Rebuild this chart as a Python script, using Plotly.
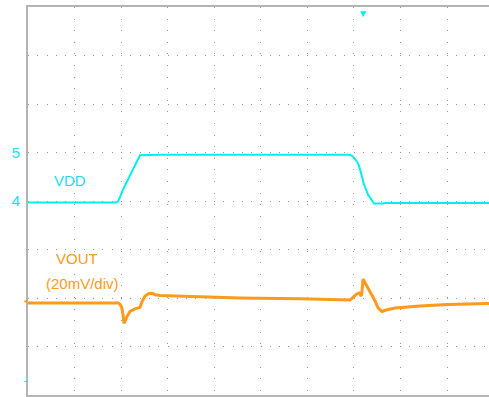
import plotly.graph_objects as go

# Time axis in scope divisions (10 div full screen, right edge cropped)
vdd_t = [0, 1.890, 1.933, 1.976, 1.997, 2.040, 2.105, 2.191, 2.298, 2.405, 2.835,
         4.77, 6.916, 6.980, 7.066, 7.109, 7.152, 7.216, 7.302, 7.388, 7.431, 7.625,
         7.668, 9.901]
vdd_v = [3.967, 3.967, 3.988, 4.07, 4.13, 4.235, 4.358, 4.543, 4.749, 4.944, 4.955,
         4.955, 4.955, 4.914, 4.811, 4.728, 4.543, 4.337, 4.132, 3.988, 3.947, 3.947,
         3.957, 3.957]

vout_t = [0, 0.902, 1.890, 1.933, 1.976, 2.012, 2.040, 2.062, 2.083, 2.126, 2.191,
          2.298, 2.405, 2.442, 2.513, 2.599, 2.663, 2.728, 2.835, 3.200, 3.694, 4.553,
          5.842, 6.916, 6.980, 7.045, 7.109, 7.163, 7.195, 7.259, 7.302, 7.345, 7.410,
          7.453, 7.517, 7.560, 7.603, 7.689, 7.883, 8.419, 8.999, 9.901]
vout_mv = [-2.02, -1.93, -1.81, -2.02, -2.63, -3.87, -6.75, -10.45, -9.63, -7.57, -5.51,
           -4.49, -3.87, -1.81, 0.78, 1.89, 1.98, 1.36, 1.07, 0.86, 0.66, 0.0,
           -0.29, -0.78, 0.25, 1.48, 2.02, 0.86, 7.82, 5.56, 4.12, 2.80, 0.74,
           -1.23, -4.03, -5.02, -5.56, -4.94, -4.12, -3.29, -2.67, -2.26]

vdd_ticks = [0, 1, 2, 3, 4, 5, 6, 7, 8]
vdd_ticktext = ["", "", "", "", "4", "5", "", "", ""]

CYAN = "#00EEF0"
CYAN_TXT = "#1CDDEE"
ORANGE = "#FF9A1A"
GRID = "#9A9A9A"
FONT = "Liberation Sans, Arial, sans-serif"

fig = go.Figure()
fig.add_trace(go.Scatter(x=vdd_t, y=vdd_v, mode="lines",
                         line=dict(color=CYAN, width=2), yaxis="y", showlegend=False))
fig.add_trace(go.Scatter(x=vout_t, y=vout_mv, mode="lines",
                         line=dict(color=ORANGE, width=3), yaxis="y2", showlegend=False))

fig.update_layout(
    width=489, height=397,
    margin=dict(l=28, r=0, t=7, b=2),
    paper_bgcolor="white", plot_bgcolor="white",
    font=dict(family=FONT),
    xaxis=dict(range=[0, 9.90], dtick=1, tick0=0, showgrid=True, gridcolor=GRID,
               gridwidth=1, griddash="1px,10.6px", zeroline=False,
               showticklabels=False, ticks="", showline=True, linecolor="#B4B4B4",
               linewidth=2, mirror=True),
    yaxis=dict(range=[0, 8], showgrid=True, gridcolor=GRID,
               gridwidth=1, griddash="1px,8.3px", zeroline=False,
               tickmode="array", tickvals=vdd_ticks, ticktext=vdd_ticktext,
               tickfont=dict(color=CYAN_TXT, size=15, family=FONT),
               ticks="", showline=True, linecolor="#B4B4B4", linewidth=2,
               ticklabelstandoff=3),
    yaxis2=dict(range=[-40, 120], overlaying="y", visible=False, showgrid=False),
)

fig.add_annotation(x=0.902, y=4.42, text="VDD", showarrow=False,
                   font=dict(color=CYAN_TXT, size=15, family=FONT))
fig.add_annotation(x=1.052, y=2.815, text="VOUT", showarrow=False,
                   font=dict(color=ORANGE, size=15, family=FONT))
fig.add_annotation(x=1.16, y=2.30, text="(20mV/div)", showarrow=False,
                   font=dict(color=ORANGE, size=15, family=FONT))
fig.add_annotation(x=7.19, y=1, yref="paper", yanchor="top", text="▼", showarrow=False,
                   font=dict(color=CYAN, size=10), yshift=1)

fig.add_shape(type="line", xref="paper", yref="y", x0=-0.008, x1=-0.001, y0=1.93, y1=1.93,
              line=dict(color=ORANGE, width=2))
fig.add_shape(type="line", xref="paper", yref="y", x0=-0.008, x1=-0.001, y0=0.28, y1=0.28,
              line=dict(color=CYAN, width=1))

fig.write_html("out.html", config={"displayModeBar": False},
               post_script="document.body.style.margin='0';document.body.style.overflow='hidden';")
